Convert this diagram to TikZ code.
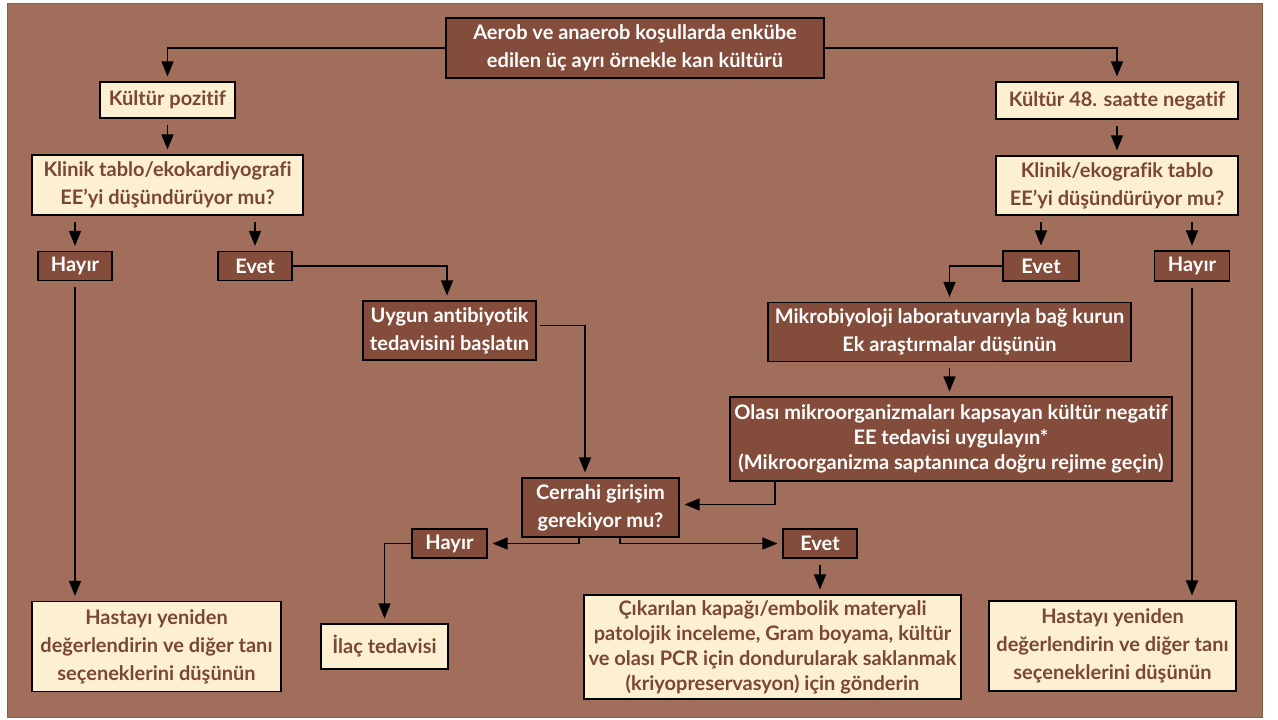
\documentclass[tikz,border=0pt]{standalone}
\usepackage{fontspec}
\setmainfont{Lato}[Ligatures=NoCommon]
\usepackage{xcolor}
\usepackage{tikz}
\usetikzlibrary{arrows.meta}
\definecolor{bg}{HTML}{A06E5B}
\definecolor{bgline}{HTML}{8A5A48}
\definecolor{dark}{HTML}{834C3B}
\definecolor{cream}{HTML}{FDEFD2}
\definecolor{ink}{HTML}{7A4636}
\tikzset{
  base/.style={draw=black, line width=1.1pt, inner sep=0pt, align=center,
    font=\fontsize{20}{28}\selectfont\bfseries},
  tight/.style={font=\fontsize{20}{25}\selectfont\bfseries},
  dbox/.style={base, fill=dark, text=white},
  lbox/.style={base, fill=cream, text=ink},
  arr/.style={-{Triangle[length=15pt,width=12pt]}, line width=1.2pt, draw=black, shorten >=5pt},
  gap/.style={shorten <=6pt}
}
\begin{document}
\begin{tikzpicture}[x=1pt,y=-1pt]
  \useasboundingbox (0,0) rectangle (1278,720);
  \draw[fill=bg, draw=bgline, line width=1pt] (7,3) rectangle (1262,717);
  % boxes
  \node[dbox, minimum width=378, minimum height=60] (top) at (635,48)
    {Aerob ve anaerob koşullarda enkübe\\edilen üç ayrı örnekle kan kültürü};
  \node[lbox, minimum width=135, minimum height=36] (kpos) at (167.5,100) {Kültür pozitif};
  \node[lbox, minimum width=242, minimum height=37] (kneg) at (1117,100.5) {Kültür 48. saatte negatif};
  \node[lbox, minimum width=271, minimum height=60] (klinL) at (167.5,185)
    {Klinik tablo/ekokardiyografi\\EE’yi düşündürüyor mu?};
  \node[lbox, minimum width=242, minimum height=59] (klinR) at (1117,185.5)
    {Klinik/ekografik tablo\\EE’yi düşündürüyor mu?};
  \node[dbox, minimum width=74, minimum height=29] (hayL) at (75,266) {Hayır};
  \node[dbox, minimum width=74, minimum height=29] (evetL) at (255,266) {Evet};
  \node[dbox, minimum width=76, minimum height=30] (evetR) at (1041,266) {Evet};
  \node[dbox, minimum width=75, minimum height=30] (hayR) at (1192,266) {Hayır};
  \node[dbox, minimum width=173, minimum height=59] (uygun) at (449.5,330.5)
    {Uygun antibiyotik\\tedavisini başlatın};
  \node[dbox, minimum width=363, minimum height=59] (mikro) at (949.5,332)
    {Mikrobiyoloji laboratuvarıyla bağ kurun\\Ek araştırmalar düşünün};
  \node[dbox, tight, minimum width=442, minimum height=84] (olasi) at (951,439)
    {Olası mikroorganizmaları kapsayan kültür negatif\\EE tedavisi uygulayın*\\(Mikroorganizma saptanınca doğru rejime geçin)};
  \node[dbox, minimum width=157, minimum height=59] (cerrahi) at (600.5,507.5)
    {Cerrahi girişim\\gerekiyor mu?};
  \node[dbox, minimum width=75, minimum height=29] (hayM) at (449.5,543.5) {Hayır};
  \node[dbox, minimum width=74, minimum height=29] (evetM) at (820,543.5) {Evet};
  \node[lbox, minimum width=127, minimum height=45] (ilac) at (384.5,646.5) {İlaç tedavisi};
  \node[lbox, tight, minimum width=377, minimum height=104] (cikar) at (772.5,647)
    {Çıkarılan kapağı/embolik materyali\\patolojik inceleme, Gram boyama, kültür\\ve olası PCR için dondurularak saklanmak\\(kriyopreservasyon) için gönderin};
  \node[lbox, minimum width=249, minimum height=90] (hastaL) at (156.5,646.5)
    {Hastayı yeniden\\değerlendirin ve diğer tanı\\seçeneklerini düşünün};
  \node[lbox, minimum width=247, minimum height=90] (hastaR) at (1112.5,646)
    {Hastayı yeniden\\değerlendirin ve diğer tanı\\seçeneklerini düşünün};
  % connectors
  \draw[arr] (top.west) -| (kpos.north);
  \draw[arr] (top.east) -| (kneg.north);
  \draw[arr, gap] (kpos.south) -- (klinL.north);
  \draw[arr, gap] (kneg.south) -- (klinR.north);
  \draw[arr, gap] (hayL.north |- klinL.south) -- (hayL.north);
  \draw[arr, gap] (evetL.north |- klinL.south) -- (evetL.north);
  \draw[arr, gap] (evetR.north |- klinR.south) -- (evetR.north);
  \draw[arr, gap] (hayR.north |- klinR.south) -- (hayR.north);
  \draw[arr] (evetL.east) -| ([xshift=-2.5pt]uygun.north);
  \draw[arr] (evetR.west) -| (mikro.north);
  \draw[arr, gap] (mikro.south) -- (mikro.south |- olasi.north);
  \draw[arr, shorten <=3pt] ([yshift=5pt]uygun.east) -| ([xshift=-15.5pt]cerrahi.north);
  \draw[arr] ([xshift=-176pt]olasi.south) |- ([yshift=3pt]cerrahi.east);
  \draw[arr] ([xshift=-21.5pt]cerrahi.south) |- (hayM.east);
  \draw[arr] ([xshift=19.5pt]cerrahi.south) |- (evetM.west);
  \draw[arr] (hayM.west) -| (ilac.north);
  \draw[arr, gap] (evetM.south) -- (evetM.south |- cikar.north);
  \draw[arr, gap] (hayL.south) -- (hayL.south |- hastaL.north);
  \draw[arr, gap] (hayR.south) -- (hayR.south |- hastaR.north);
\end{tikzpicture}
\end{document}
